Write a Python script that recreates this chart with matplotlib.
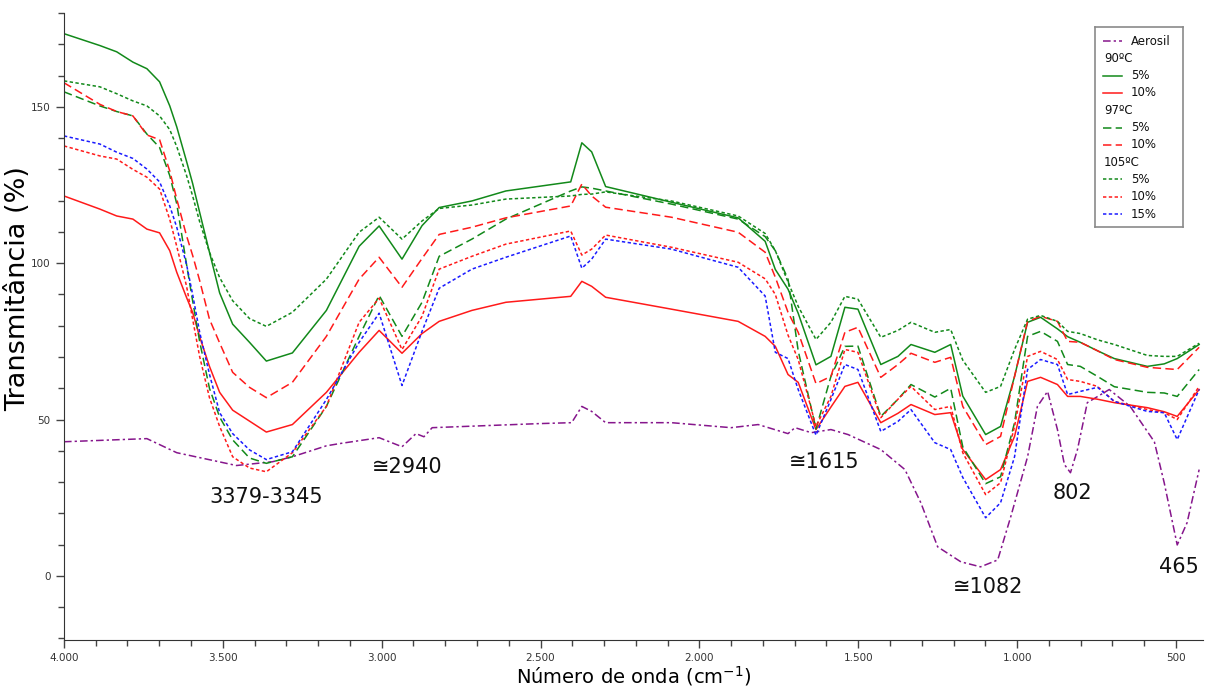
#FTIR spectra of the aerosil samples (transmittance vs wavenumber)

import matplotlib
matplotlib.use('Agg')
import matplotlib.pyplot as plt
from matplotlib.ticker import MultipleLocator, FuncFormatter

############
### DATA ###
############
#shared wavenumber grid (cm-1) for the treated samples
wn = [4000, 3887, 3834, 3783, 3739, 3699, 3667, 3645, 3614, 3595,
      3573, 3542, 3510, 3469, 3416, 3363, 3281, 3174, 3071, 3008,
      2936, 2873, 2819, 2716, 2609, 2405, 2370, 2339, 2295, 2088,
      1878, 1793, 1761, 1721, 1689, 1633, 1586, 1542, 1501, 1429,
      1375, 1334, 1259, 1209, 1171, 1099, 1052, 1008, 967, 926,
      873, 841, 801, 747, 694, 590, 537, 496, 427]

t90_5 = [173.4, 169.6, 167.6, 164.3, 162.2, 158.0, 150.3, 143.6, 132.5, 125.5,
         116.3, 103.5, 90.5, 80.5, 74.7, 68.7, 71.3, 84.9, 105.4, 111.9,
         101.3, 112.0, 117.8, 119.9, 123.1, 126.0, 138.5, 135.6, 124.5, 119.5,
         114.5, 107.0, 98.0, 91.7, 84.0, 67.5, 70.2, 85.9, 85.3, 67.6,
         70.2, 74.0, 71.5, 74.0, 57.5, 45.2, 47.8, 63.8, 81.1, 82.7,
         79.0, 76.5, 74.7, 72.0, 69.5, 67.0, 67.8, 69.5, 74.0]

t90_10 = [121.5, 117.3, 115.1, 114.1, 110.9, 109.7, 104.0, 97.1, 89.0, 84.3,
          76.5, 67.0, 58.7, 53.0, 49.5, 46.0, 48.4, 58.7, 71.5, 78.5,
          71.2, 77.5, 81.4, 84.9, 87.5, 89.4, 94.2, 92.6, 89.1, 85.3,
          81.4, 76.6, 73.4, 64.4, 61.9, 46.8, 54.0, 60.6, 61.9, 49.0,
          52.0, 54.8, 51.6, 52.2, 40.4, 30.8, 34.0, 44.6, 62.2, 63.5,
          61.2, 57.4, 57.4, 56.5, 55.4, 53.8, 52.5, 51.0, 59.6]

t97_5 = [154.8, 150.3, 148.5, 147.1, 141.3, 137.0, 128.0, 119.0, 99.5, 88.0,
         75.0, 60.0, 50.8, 43.5, 37.7, 36.0, 38.1, 54.2, 76.6, 89.7,
         76.6, 87.5, 102.2, 107.7, 114.1, 123.1, 124.4, 124.0, 123.1, 118.9,
         114.1, 108.5, 104.0, 94.9, 72.0, 47.0, 63.8, 73.4, 73.5, 51.0,
         56.5, 61.2, 57.2, 60.0, 41.3, 29.5, 31.7, 49.0, 76.6, 78.2,
         75.0, 67.6, 67.0, 63.8, 60.5, 58.7, 58.5, 57.4, 66.0]

t97_10 = [157.7, 150.8, 148.5, 147.1, 141.0, 139.5, 129.5, 120.5, 108.7, 102.5,
          94.5, 82.1, 74.5, 65.1, 60.3, 57.0, 61.9, 76.6, 94.9, 101.9,
          92.3, 101.5, 109.2, 111.5, 114.5, 118.3, 125.3, 121.5, 117.9, 114.7,
          109.9, 103.5, 95.5, 84.3, 77.9, 61.5, 63.8, 77.9, 79.5, 63.5,
          67.6, 71.2, 68.3, 69.9, 54.2, 42.0, 44.6, 63.8, 81.4, 83.0,
          81.4, 75.0, 74.7, 72.0, 69.2, 66.7, 66.3, 66.0, 73.1]

t105_5 = [158.3, 156.4, 154.2, 151.9, 150.3, 147.1, 142.7, 137.3, 128.0, 121.5,
          113.3, 103.5, 95.4, 88.0, 82.3, 79.8, 84.3, 94.9, 109.9, 114.7,
          107.7, 113.5, 117.5, 118.6, 120.5, 121.5, 122.0, 122.1, 122.8, 119.9,
          115.1, 109.5, 104.0, 94.0, 86.2, 75.6, 81.1, 89.4, 88.5, 76.3,
          78.5, 81.1, 77.9, 78.8, 69.0, 58.7, 60.6, 72.4, 82.1, 83.3,
          81.4, 78.2, 77.5, 75.5, 74.0, 70.5, 70.2, 70.2, 74.4]

t105_10 = [137.5, 134.3, 133.3, 130.0, 127.5, 123.7, 114.0, 105.4, 92.6, 82.1,
           70.2, 57.0, 47.8, 38.1, 34.5, 33.3, 39.4, 54.2, 81.1, 88.8,
           72.4, 83.0, 98.1, 102.2, 106.1, 110.3, 102.6, 104.5, 109.0, 105.1,
           100.3, 95.0, 90.0, 77.0, 69.2, 47.8, 57.4, 72.4, 71.5, 50.6,
           56.5, 60.6, 53.2, 54.2, 39.4, 26.0, 29.8, 47.8, 70.2, 71.8,
           69.2, 62.8, 62.2, 60.6, 55.8, 53.2, 52.2, 50.0, 60.6]

t105_15 = [140.7, 138.1, 135.5, 133.5, 130.1, 126.0, 118.3, 111.5, 99.5, 90.0,
           78.0, 64.5, 52.2, 45.5, 40.3, 37.2, 39.7, 56.4, 74.7, 84.0,
           60.9, 78.2, 92.0, 98.1, 101.9, 108.7, 98.4, 101.3, 107.7, 104.5,
           98.7, 89.5, 71.5, 69.5, 59.6, 45.0, 56.4, 67.6, 66.0, 46.2,
           49.4, 53.2, 42.6, 40.4, 31.5, 18.6, 23.4, 38.1, 66.0, 69.2,
           67.6, 58.0, 59.0, 60.3, 55.8, 52.6, 52.2, 43.6, 59.6]

#pure aerosil has its own grid
wn_aer = [4000, 3739, 3645, 3457, 3344, 3281, 3174, 3133, 3008, 2936,
          2892, 2867, 2841, 2505, 2402, 2370, 2339, 2295, 2088, 1900,
          1815, 1721, 1699, 1648, 1586, 1532, 1429, 1353, 1303, 1250,
          1177, 1115, 1061, 1020, 967, 936, 904, 873, 851, 832,
          810, 779, 710, 644, 568, 537, 496, 465, 427]
t_aer = [42.9, 43.9, 39.4, 35.3, 36.5, 38.1, 41.6, 42.3, 44.2, 41.3,
         45.5, 44.5, 47.4, 48.7, 49.0, 54.2, 52.6, 49.0, 49.0, 47.4,
         48.4, 45.5, 47.4, 45.8, 46.8, 45.2, 40.4, 34.0, 23.4, 9.3,
         4.5, 2.9, 5.1, 18.9, 38.1, 54.2, 59.0, 46.8, 35.6, 33.0,
         40.4, 55.4, 59.6, 54.2, 42.9, 29.8, 9.9, 17.0, 34.0]

#band labels
band_text = ['3379-3345', '\u22452940', '\u22451615', '\u22451082', '802', '465']
band_wn = [3363, 2920, 1607, 1093, 826, 490]
band_t = [25.3, 34.9, 36.5, -3.5, 26.6, 2.9]

##############
### STYLES ###
##############
GREEN = '#12891a'
RED = '#ff1a1a'
BLUE = '#1a1aff'
PURPLE = '#86168c'
SOLID = '-'
DASHED = (0, (5.5, 2.8))
DOTTED = (0, (2.2, 1.6))
DASHDOT = (0, (5, 2, 1.5, 2))

series = [
  ('Aerosil', wn_aer, t_aer, PURPLE, DASHDOT),
  ('5%', wn, t90_5, GREEN, SOLID),
  ('10%', wn, t90_10, RED, SOLID),
  ('5%', wn, t97_5, GREEN, DASHED),
  ('10%', wn, t97_10, RED, DASHED),
  ('5%', wn, t105_5, GREEN, DOTTED),
  ('10%', wn, t105_10, RED, DOTTED),
  ('15%', wn, t105_15, BLUE, DOTTED),
]
#legend rows: strings are temperature headers, ints index into series
legend_rows = [0, '90\u00baC', 1, 2, '97\u00baC', 3, 4, '105\u00baC', 5, 6, 7]

def thousands(v, pos):
  return '{:,}'.format(int(round(v))).replace(',', '.')

def drawLegend(fig):
  lg = fig.add_axes([0.9057, 0.6705, 0.0728, 0.2903])
  lg.set_xlim(0, 88)
  lg.set_ylim(200, 0)
  lg.set_xticks([])
  lg.set_yticks([])
  for s in lg.spines.values():
    s.set_color('#8a8a8a')
    s.set_linewidth(1.2)
  y = 14
  for row in legend_rows:
    if isinstance(row, str):
      lg.text(9, y, row, fontsize=8.5, va='center', ha='left', color='#111111')
    else:
      label, _, _, color, ls = series[row]
      lg.plot([8, 27], [y, y], color=color, linestyle=ls, lw=1.1)
      lg.text(36, y, label, fontsize=8.5, va='center', ha='left', color='#111111')
    y += 17.3

#############
### PLOTS ###
#############
def plotSpectra():
  fig = plt.figure(figsize=(12.09, 6.89), dpi=100)
  ax = fig.add_axes([0.0529, 0.0711, 0.9421, 0.91])
  for (label, x, y, color, ls) in series:
    ax.plot(x, y, color=color, linestyle=ls, lw=1.1)
  for (s, x, y) in zip(band_text, band_wn, band_t):
    ax.text(x, y, s, ha='center', va='center', fontsize=15, color='#111111')

  ax.set_xlim(4000, 415)
  ax.set_ylim(-20.5, 180)
  ax.spines['top'].set_visible(False)
  ax.spines['right'].set_visible(False)
  for s in ('left', 'bottom'):
    ax.spines[s].set_color('#333333')
  ax.xaxis.set_major_locator(MultipleLocator(500))
  ax.xaxis.set_minor_locator(MultipleLocator(100))
  ax.yaxis.set_major_locator(MultipleLocator(50))
  ax.yaxis.set_minor_locator(MultipleLocator(10))
  ax.xaxis.set_major_formatter(FuncFormatter(thousands))
  ax.tick_params(which='major', length=6, width=1, labelsize=7.5,
                 color='#444444', labelcolor='#333333')
  ax.tick_params(which='minor', length=4, width=1, color='#444444')
  ax.set_xlabel(r'Número de onda (cm$^{-1}$)', fontsize=14, labelpad=1)
  ax.set_ylabel('Transmitância (%)', fontsize=19.5)
  #label sits a bit above the axis centre in the original
  ax.yaxis.set_label_coords(-0.0285, 0.56)

  drawLegend(fig)
  fig.savefig('out.png', dpi=100)

if __name__=='__main__':
  plotSpectra()
